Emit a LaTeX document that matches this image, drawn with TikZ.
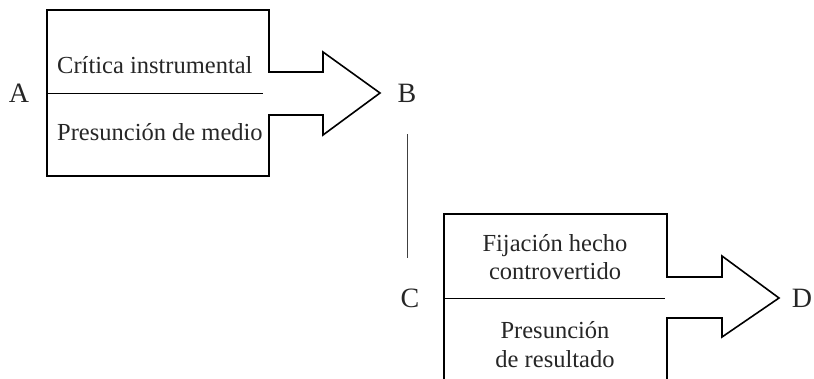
\documentclass[tikz,border=0pt]{standalone}
\usepackage{fontspec}
\setmainfont{Liberation Serif}
\begin{document}
\begin{tikzpicture}[x=1pt,y=-1pt,
  shapeline/.style={line width=1.6pt, line join=miter},
  divider/.style={line width=0.9pt},
  txt/.style={inner sep=0pt, font=\fontsize{24.5}{28}\selectfont, text=black!85},
  letter/.style={inner sep=0pt, font=\fontsize{28}{32}\selectfont, text=black!85}]
\useasboundingbox (0,0) rectangle (814,378);
% first box-arrow
\draw[shapeline] (47,10) -- (269,10) -- (269,72) -- (323,72) -- (323,52) -- (380,93)
  -- (323,135) -- (323,115) -- (269,115) -- (269,176) -- (47,176) -- cycle;
\draw[divider] (47,93) -- (263,93);
\node[txt, anchor=base west] (t1) at (57,73) {Crítica instrumental};
\node[txt, anchor=base west] (t2) at (57,140) {Presunción de medio};
% second box-arrow
\draw[shapeline] (444,379) -- (444,214) -- (667,214) -- (667,277) -- (722,277) -- (722,256)
  -- (779,298) -- (722,337) -- (722,318) -- (667,318) -- (667,379);
\draw[divider] (444,298) -- (665,298);
\node[txt, anchor=base] (f1) at (555,251) {Fijación hecho};
\node[txt, anchor=base] (f2) at (555,279) {controvertido};
\node[txt, anchor=base] (p1) at (555,338) {Presunción};
\node[txt, anchor=base] (p2) at (555,367) {de resultado};
% letters
\node[letter] (A) at (19,93) {A};
\node[letter] (B) at (407,93) {B};
\node[letter] (C) at (410,298) {C};
\node[letter] (D) at (802,298) {D};
% connector B - C
\coordinate (bc1) at (407,134);
\coordinate (bc2) at (407,258);
\draw[divider, black!75] (bc1) -- (bc2);
\end{tikzpicture}
\end{document}
